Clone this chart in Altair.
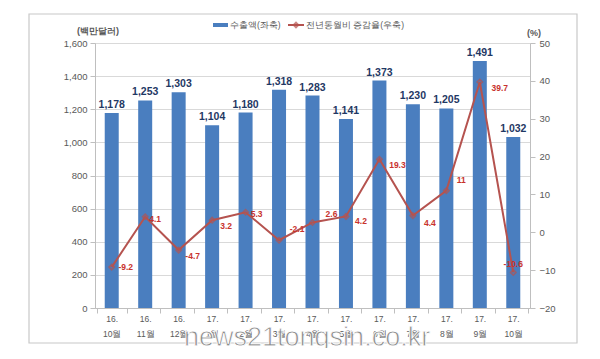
import altair as alt
import pandas as pd

# ---- data ----
years = ["16.", "16.", "16.", "17.", "17.", "17.", "17.", "17.", "17.", "17.", "17.", "17.", "17."]
months = ["10월", "11월", "12월", "1월", "2월", "3월", "4월", "5월", "6월", "7월", "8월", "9월", "10월"]
exports = [1178, 1253, 1303, 1104, 1180, 1318, 1283, 1141, 1373, 1230, 1205, 1491, 1032]
growth = [-9.2, 4.1, -4.7, 3.2, 5.3, -2.1, 2.6, 4.2, 19.3, 4.4, 11, 39.7, -10.6]
growth_labels = ["-9.2", "4.1", "-4.7", "3.2", "5.3", "-2.1", "2.6", "4.2", "19.3", "4.4", "11", "39.7", "-10.6"]

cats = [f"{y}|{m}" for y, m in zip(years, months)]
df = pd.DataFrame({"cat": cats, "exports": exports, "growth": growth,
                   "glabel": growth_labels, "idx": list(range(len(cats)))})

# label offsets for growth labels (style)
offsets = [(14, 0), (10, 2), (14, 6), (14, 6), (11, 2), (18, -11), (19, -8),
           (15, 5), (18, 6), (17, 7), (15, -11), (20, 6), (0, -8)]

W, H = 435, 265
BLUE = "#4A7EBF"
RED = "#B5534F"
LRED = "#C8322D"
GRAY = "#595959"

xaxis = alt.Axis(labelExpr="isString(datum.value) ? split(datum.value, '|') : ''", labelAngle=0,
                 labelFontSize=8.5, labelColor=GRAY, labelLineHeight=15,
                 tickBand="extent", domainColor="#BFBFBF", tickColor="#BFBFBF",
                 tickSize=5, labelPadding=1, grid=False, title=None)
yl_axis = alt.Axis(values=list(range(0, 1601, 200)), format=",.0f", labelFontSize=9.5,
                   labelColor=GRAY, tickSize=5, tickColor="#BFBFBF",
                   domainColor="#BFBFBF", gridColor="#D9D9D9", labelPadding=3, title=None)
yr_axis = alt.Axis(orient="right", values=list(range(-20, 51, 10)), format=".0f", labelFontSize=9.5,
                   labelColor=GRAY, tickSize=5, tickColor="#BFBFBF",
                   domainColor="#BFBFBF", grid=False, labelPadding=4, title=None)


def X():
    return alt.X("cat:N", sort=cats, axis=xaxis)


def YL():
    return alt.Y("exports:Q", scale=alt.Scale(domain=[0, 1600]), axis=yl_axis)


def YR():
    return alt.Y("growth:Q", scale=alt.Scale(domain=[-20, 50]), axis=yr_axis)


base = alt.Chart(df)

bars = base.mark_bar(size=14, color=BLUE).encode(x=X(), y=YL())
bar_text = base.mark_text(baseline="bottom", dy=-3, fontWeight="bold", fontSize=10.5,
                          color="#1F3864", font="Liberation Sans").encode(
    x=X(), y=YL(), text=alt.Text("exports:Q", format=","))
left = alt.layer(bars, bar_text)

line = base.mark_line(color=RED, strokeWidth=2).encode(x=X(), y=YR())
pts = base.mark_point(shape="diamond", filled=False, color=RED, size=30, strokeWidth=1.5).encode(
    x=X(), y=YR())
glabels = []
for i, (dx, dy) in enumerate(offsets):
    glabels.append(base.transform_filter(alt.datum.idx == i).mark_text(
        dx=dx, dy=dy, fontSize=8.5, fontWeight="bold", color=LRED, font="Liberation Sans").encode(
        x=X(), y=YR(), text="glabel:N"))
right = alt.layer(line, pts, *glabels)

one = alt.Chart(pd.DataFrame({"a": [0]}))
frame = one.mark_rect(fill=None, stroke="#C8C8C8", strokeWidth=1.2).encode(
    x=alt.value(-66), x2=alt.value(482), y=alt.value(-29), y2=alt.value(300))
unit_l = one.mark_text(text="(백만달러)", fontSize=9, color=GRAY, fontWeight="bold").encode(
    x=alt.value(3), y=alt.value(-12))
unit_r = one.mark_text(text="(%)", fontSize=9, color=GRAY, fontWeight="bold").encode(
    x=alt.value(439), y=alt.value(-10))
leg1 = one.mark_rule(color=BLUE, strokeWidth=4).encode(
    x=alt.value(118), x2=alt.value(133), y=alt.value(-18))
leg1t = one.mark_text(text="수출액(좌축)", fontSize=8.5, color=GRAY, align="left").encode(
    x=alt.value(135), y=alt.value(-18))
leg2 = one.mark_rule(color=RED, strokeWidth=2).encode(
    x=alt.value(193), x2=alt.value(209), y=alt.value(-18))
leg2p = one.mark_point(shape="diamond", color=RED, size=20, filled=False).encode(
    x=alt.value(201), y=alt.value(-18))
leg2t = one.mark_text(text="전년동월비 증감율(우축)", fontSize=8.5, color=GRAY, align="left").encode(
    x=alt.value(211), y=alt.value(-18))
wm = one.mark_text(text="news21tongsin.co.kr", fontSize=27, color="#8C8C8C", align="left",
                   stroke="white", strokeWidth=0.8, font="Liberation Sans").encode(
    x=alt.value(89), y=alt.value(295))

chart = alt.layer(
    frame, left, right, unit_l, unit_r, leg1, leg1t, leg2, leg2p, leg2t, wm
).resolve_scale(y="independent").properties(
    width=W, height=H,
    autosize=alt.AutoSizeParams(type="none"),
    padding={"left": 87, "top": 35, "right": 62, "bottom": 40},
).configure_view(stroke=None).configure(font="Liberation Sans")

chart.save("out.html", embed_options={"renderer": "svg", "actions": False})
